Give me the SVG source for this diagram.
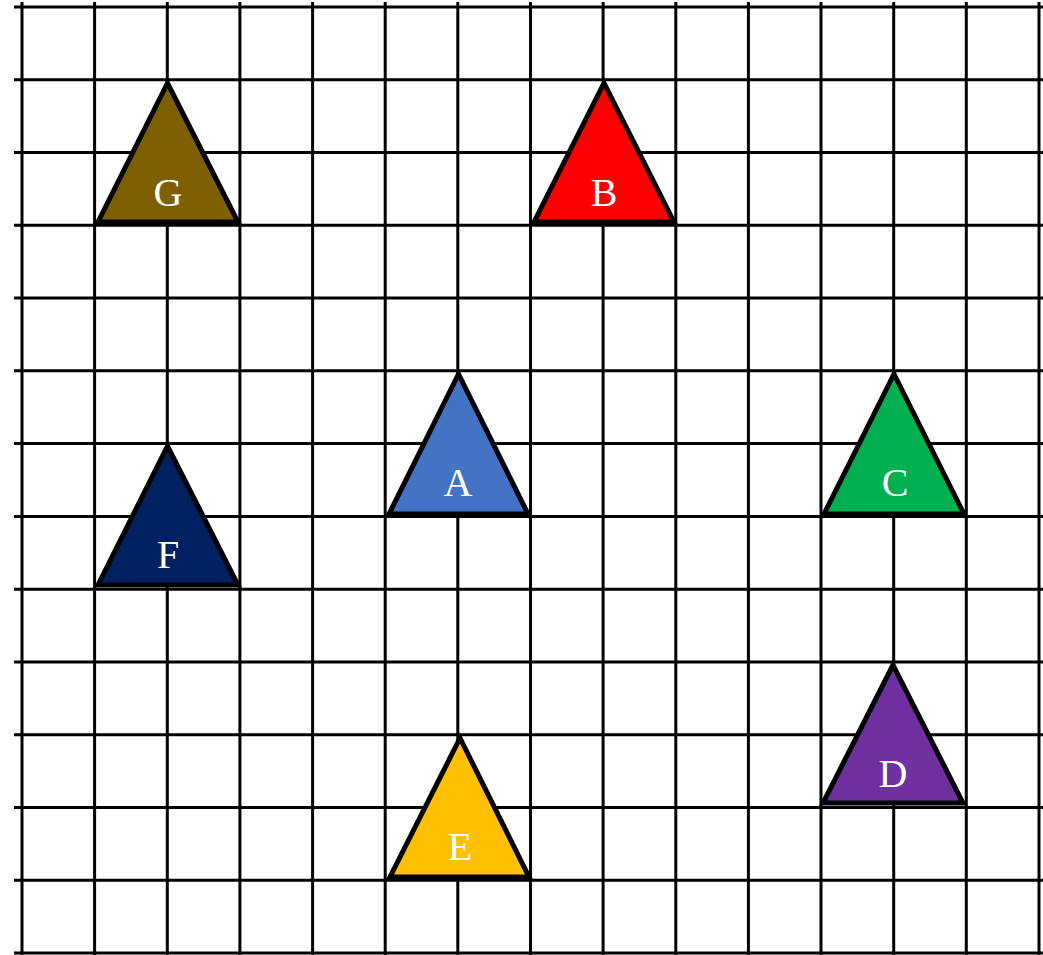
<svg xmlns="http://www.w3.org/2000/svg" width="1043" height="955" viewBox="0 0 1043 955">
<style>
.g{stroke:#000;stroke-width:3;fill:none}
.t{stroke:#000;stroke-width:5;stroke-linejoin:miter}
.l{font-family:"Liberation Serif","DejaVu Serif",serif;font-size:40px;fill:#fff;text-anchor:middle}
</style>
<rect width="1043" height="955" fill="#fff"/>
<g id="grid" class="g">
<path d="M22 2V955M94.6 2V955M167.3 2V955M239.9 2V955M312.6 2V955M385.2 2V955M457.8 2V955M530.5 2V955M603.1 2V955M675.8 2V955M748.4 2V955M821 2V955M893.7 2V955M966.3 2V955M1039 2V955"/>
<path d="M14 7H1043M14 79.8H1043M14 152.5H1043M14 225.3H1043M14 298H1043M14 370.8H1043M14 443.6H1043M14 516.4H1043M14 589.2H1043M14 661.9H1043M14 734.7H1043M14 807.5H1043M14 880.2H1043M14 953H1043"/>
</g>
<g id="G"><polygon class="t" fill="#7F6000" points="167.5,83 98,222 238,222"/><text class="l" x="168" y="206">G</text></g>
<g id="B"><polygon class="t" fill="#FF0000" points="604,83 534,222 674,222"/><text class="l" x="604" y="206">B</text></g>
<g id="A"><polygon class="t" fill="#4472C4" points="458.5,374 389,514 528,514"/><text class="l" x="458" y="496">A</text></g>
<g id="C"><polygon class="t" fill="#00B050" points="894,374 824,514 964,514"/><text class="l" x="895" y="496">C</text></g>
<g id="F"><polygon class="t" fill="#002060" points="167.5,446 98,585 238,585"/><text class="l" x="168" y="568">F</text></g>
<g id="D"><polygon class="t" fill="#7030A0" points="893,665 823,803 963,803"/><text class="l" x="893" y="787">D</text></g>
<g id="E"><polygon class="t" fill="#FFC000" points="460,738 390,877 529,877"/><text class="l" x="460" y="860">E</text></g>
<g id="connectors"/>
</svg>
